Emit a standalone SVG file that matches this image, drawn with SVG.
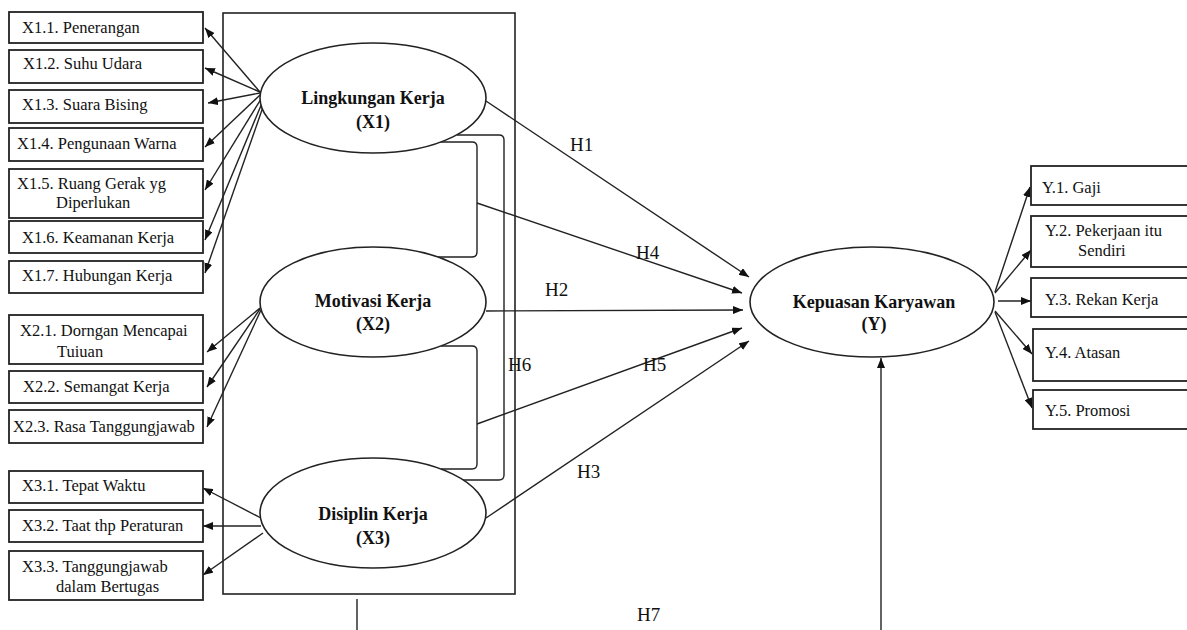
<svg xmlns="http://www.w3.org/2000/svg" width="1187" height="630" viewBox="0 0 1187 630">
<style>
.box{fill:#fff;stroke:#222;stroke-width:1.8}
.ell{fill:#fff;stroke:#222;stroke-width:1.6}
.ln{fill:none;stroke:#222;stroke-width:1.4}
.t{font-family:"Liberation Serif","Times New Roman",serif;font-size:16.5px;fill:#111}
.b{font-family:"Liberation Serif","Times New Roman",serif;font-size:18px;font-weight:bold;fill:#111;text-anchor:middle}
.h{font-family:"Liberation Serif","Times New Roman",serif;font-size:19px;fill:#111}
</style>
<defs>
<marker id="ah" markerUnits="userSpaceOnUse" markerWidth="10" markerHeight="8" refX="10" refY="4" orient="auto">
<path d="M0,0 L10,4 L0,8 z" fill="#111"/>
</marker>
</defs>
<rect width="1187" height="630" fill="#fff"/>
<g id="frame"><rect x="223" y="13" width="292" height="581" class="ln" style="stroke-width:1.6"/></g>
<g id="connectors">
<g class="ln" marker-end="url(#ah)">
<line x1="260" y1="92" x2="205" y2="28"/>
<line x1="260" y1="92" x2="205" y2="68"/>
<line x1="260" y1="93" x2="208" y2="103"/>
<line x1="260" y1="95" x2="205" y2="147"/>
<line x1="261" y1="99" x2="205" y2="190"/>
<line x1="262" y1="103" x2="205" y2="240"/>
<line x1="263" y1="107" x2="205" y2="273"/>
<line x1="260" y1="308" x2="207" y2="352"/>
<line x1="260" y1="309" x2="207" y2="387"/>
<line x1="261" y1="310" x2="207" y2="427"/>
<line x1="261" y1="518" x2="203" y2="488"/>
<line x1="261" y1="526" x2="203" y2="526"/>
<line x1="263" y1="533" x2="203" y2="575"/>
<line x1="486" y1="101" x2="749" y2="277"/>
<line x1="477" y1="203" x2="742" y2="293"/>
<line x1="486" y1="311" x2="743" y2="310"/>
<line x1="477" y1="424" x2="742" y2="328"/>
<line x1="486" y1="518" x2="749" y2="341"/>
<line x1="995" y1="292" x2="1030" y2="187"/>
<line x1="995" y1="293" x2="1031" y2="250"/>
<line x1="998" y1="301" x2="1031" y2="301"/>
<line x1="995" y1="311" x2="1032" y2="354"/>
<line x1="995" y1="312" x2="1032" y2="408"/>
<line x1="881" y1="630" x2="881" y2="358"/>
</g>
<path class="ln" d="M440,142 L472,142 Q477,142 477,147 L477,252 Q477,257 472,257 L438,257"/>
<path class="ln" d="M457,135 L499,135 Q504,135 504,140 L504,475 Q504,480 499,480 L463,480"/>
<path class="ln" d="M441,346 L472,346 Q477,346 477,351 L477,464 Q477,469 472,469 L441,469"/>
<line class="ln" x1="357" y1="599" x2="357" y2="630"/>
<text class="h" x="570" y="151">H1</text>
<text class="h" x="636" y="259">H4</text>
<text class="h" x="545" y="296">H2</text>
<text class="h" x="508" y="371">H6</text>
<text class="h" x="643" y="371">H5</text>
<text class="h" x="577" y="478">H3</text>
<text class="h" x="637" y="621">H7</text>
</g>
<g id="X1"><ellipse class="ell" cx="373" cy="98" rx="113" ry="55"/><text class="b" x="373" y="104">Lingkungan Kerja</text><text class="b" x="373" y="128">(X1)</text></g>
<g id="X2"><ellipse class="ell" cx="373" cy="302" rx="113" ry="55"/><text class="b" x="373" y="307">Motivasi Kerja</text><text class="b" x="373" y="330">(X2)</text></g>
<g id="X3"><ellipse class="ell" cx="373" cy="513" rx="113" ry="55"/><text class="b" x="373" y="520">Disiplin Kerja</text><text class="b" x="373" y="544">(X3)</text></g>
<g id="Y"><ellipse class="ell" cx="872" cy="302" rx="122" ry="55"/><text class="b" x="874" y="308">Kepuasan Karyawan</text><text class="b" x="874" y="330">(Y)</text></g>
<g id="X1.1"><rect class="box" x="9" y="12" width="194" height="31"/><text class="t" x="22" y="33">X1.1. Penerangan</text></g>
<g id="X1.2"><rect class="box" x="9" y="50" width="194" height="33"/><text class="t" x="23" y="69">X1.2. Suhu Udara</text></g>
<g id="X1.3"><rect class="box" x="9" y="90" width="194" height="33"/><text class="t" x="22" y="110">X1.3. Suara Bising</text></g>
<g id="X1.4"><rect class="box" x="9" y="128" width="194" height="33"/><text class="t" x="17" y="149">X1.4. Pengunaan Warna</text></g>
<g id="X1.5"><rect class="box" x="9" y="169" width="194" height="49"/><text class="t" x="17" y="189">X1.5. Ruang Gerak yg</text><text class="t" x="56" y="208">Diperlukan</text></g>
<g id="X1.6"><rect class="box" x="9" y="221" width="194" height="32"/><text class="t" x="22" y="243">X1.6. Keamanan Kerja</text></g>
<g id="X1.7"><rect class="box" x="9" y="261" width="194" height="32"/><text class="t" x="22" y="281">X1.7. Hubungan Kerja</text></g>
<g id="X2.1"><rect class="box" x="9" y="315" width="194" height="49"/><text class="t" x="20" y="336">X2.1. Dorngan Mencapai</text><text class="t" x="57" y="357">Tuiuan</text></g>
<g id="X2.2"><rect class="box" x="9" y="371" width="194" height="32"/><text class="t" x="23" y="392">X2.2. Semangat Kerja</text></g>
<g id="X2.3"><rect class="box" x="9" y="410" width="194" height="33"/><text class="t" x="13" y="432">X2.3. Rasa Tanggungjawab</text></g>
<g id="X3.1"><rect class="box" x="9" y="471" width="194" height="32"/><text class="t" x="22" y="491">X3.1. Tepat Waktu</text></g>
<g id="X3.2"><rect class="box" x="9" y="510" width="194" height="32"/><text class="t" x="22" y="531">X3.2. Taat thp Peraturan</text></g>
<g id="X3.3"><rect class="box" x="9" y="551" width="194" height="49"/><text class="t" x="22" y="572">X3.3. Tanggungjawab</text><text class="t" x="56" y="592">dalam Bertugas</text></g>
<g id="Y.1"><rect class="box" x="1031" y="166" width="170" height="39"/><text class="t" x="1042" y="193">Y.1. Gaji</text></g>
<g id="Y.2"><rect class="box" x="1031" y="216" width="170" height="51"/><text class="t" x="1045" y="236">Y.2. Pekerjaan itu</text><text class="t" x="1078" y="256">Sendiri</text></g>
<g id="Y.3"><rect class="box" x="1031" y="278" width="170" height="39"/><text class="t" x="1045" y="305">Y.3. Rekan Kerja</text></g>
<g id="Y.4"><rect class="box" x="1033" y="329" width="170" height="52"/><text class="t" x="1045" y="358">Y.4. Atasan</text></g>
<g id="Y.5"><rect class="box" x="1033" y="390" width="170" height="39"/><text class="t" x="1045" y="416">Y.5. Promosi</text></g>
</svg>
